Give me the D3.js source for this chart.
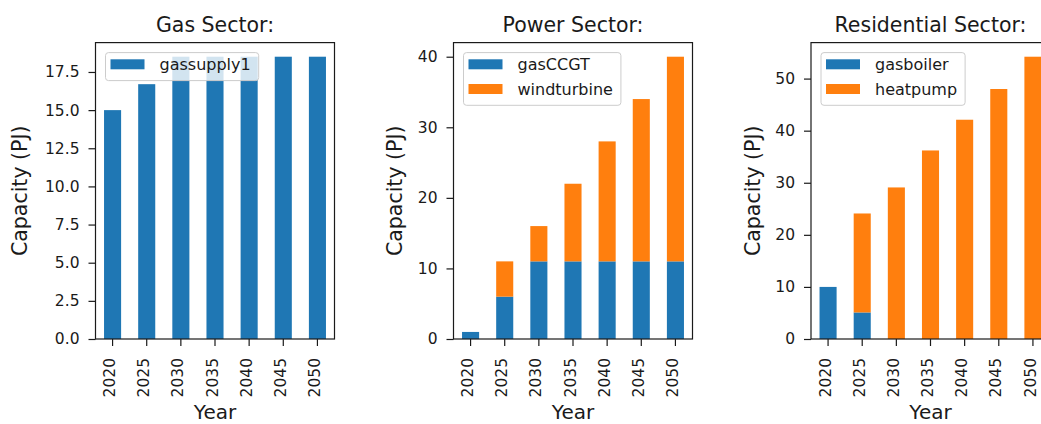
<!DOCTYPE html>
<html>
<head>
<meta charset="utf-8">
<script src="https://cdn.jsdelivr.net/npm/d3@7"></script>
<style>
  html, body { margin: 0; padding: 0; background: #fff; }
  svg { display: block; font-family: "DejaVu Sans", sans-serif; }
</style>
</head>
<body>
<svg id="chart" width="1041" height="424"></svg>
<script>
// ---- data ----
const years = ["2020", "2025", "2030", "2035", "2040", "2045", "2050"];
const gasSupply1 = [15, 16.7, 18.5, 18.5, 18.5, 18.5, 18.5];
const gasCCGT = [1, 6, 11, 11, 11, 11, 11];
const windTurbine = [0, 5, 5, 11, 17, 23, 29];
const gasBoiler = [10, 5.1, 0, 0, 0, 0, 0];
const heatPump = [0, 19, 29.1, 36.2, 42.1, 48, 54.2];

const gasTicks = [0, 2.5, 5, 7.5, 10, 12.5, 15, 17.5];
const powerTicks = [0, 10, 20, 30, 40];
const resTicks = [0, 10, 20, 30, 40, 50];

const titles = ["Gas Sector:", "Power Sector:", "Residential Sector:"];
const xLabel = "Year";
const yLabel = "Capacity (PJ)";

const blue = "#1f77b4", orange = "#ff7f0e";

const panels = [
  { title: titles[0], series: [{ name: "gassupply1", values: gasSupply1, color: blue }],
    ticks: gasTicks, fmt: d3.format(".1f"), left: 95.5, ylabX: 27 },
  { title: titles[1], series: [{ name: "gasCCGT", values: gasCCGT, color: blue },
                               { name: "windturbine", values: windTurbine, color: orange }],
    ticks: powerTicks, fmt: d3.format("d"), left: 453.5, ylabX: 401.5 },
  { title: titles[2], series: [{ name: "gasboiler", values: gasBoiler, color: blue },
                               { name: "heatpump", values: heatPump, color: orange }],
    ticks: resTicks, fmt: d3.format("d"), left: 811, ylabX: 760 }
];

const svg = d3.select("#chart");
svg.append("rect").attr("width", 1041).attr("height", 424).attr("fill", "#fff");

const axTop = 42.6, axBottom = 339, axW = 239;
const txt = "#1a1a1a";

panels.forEach(p => {
  const g = svg.append("g");
  const totals = years.map((y, i) => d3.sum(p.series, s => s.values[i]));
  const ymax = d3.max(totals) * 1.05;
  const x = d3.scaleBand().domain(years).range([p.left, p.left + axW])
    .paddingInner(0.5).paddingOuter(0.25);
  const y = d3.scaleLinear().domain([0, ymax]).range([axBottom, axTop]);

  // stacked bars
  const rows = years.map((yr, i) => {
    const o = { year: yr };
    p.series.forEach(s => o[s.name] = s.values[i]);
    return o;
  });
  const stack = d3.stack().keys(p.series.map(s => s.name))(rows);
  stack.forEach((layer, li) => {
    g.append("g").attr("fill", p.series[li].color)
      .selectAll("rect").data(layer).join("rect")
      .attr("x", d => x(d.data.year))
      .attr("width", x.bandwidth())
      .attr("y", d => y(d[1]))
      .attr("height", d => Math.max(0, y(d[0]) - y(d[1])));
  });

  // y axis
  const ya = g.append("g").attr("transform", `translate(${p.left},0)`)
    .call(d3.axisLeft(y).tickValues(p.ticks).tickFormat(p.fmt).tickSize(7).tickPadding(9));
  ya.select(".domain").remove();
  ya.selectAll(".tick line").attr("stroke", txt).attr("stroke-width", 1.2);
  ya.selectAll(".tick text").attr("fill", txt).attr("font-size", "15.5px")
    .attr("font-family", "DejaVu Sans");

  // x axis
  const xa = g.append("g").attr("transform", `translate(0,${axBottom})`)
    .call(d3.axisBottom(x).tickSize(7).tickPadding(0));
  xa.select(".domain").remove();
  xa.selectAll(".tick line").attr("stroke", txt).attr("stroke-width", 1.2);
  xa.selectAll(".tick text").attr("fill", txt).attr("font-size", "15.5px")
    .attr("font-family", "DejaVu Sans")
    .attr("text-anchor", "end")
    .attr("y", 0).attr("dy", "0.17em")
    .attr("transform", "translate(0,19) rotate(-90)");

  // spines
  g.append("rect").attr("x", p.left).attr("y", axTop).attr("width", axW)
    .attr("height", axBottom - axTop).attr("fill", "none")
    .attr("stroke", txt).attr("stroke-width", 1.2);

  // title
  g.append("text").attr("x", p.left + axW / 2).attr("y", 31.5)
    .attr("text-anchor", "middle").attr("font-size", "20.5px").attr("fill", txt)
    .text(p.title);
  // x label
  g.append("text").attr("x", p.left + axW / 2).attr("y", 419)
    .attr("text-anchor", "middle").attr("font-size", "20px").attr("fill", txt)
    .text(xLabel);
  // y label
  g.append("text").attr("transform", `translate(${p.ylabX},${(axTop + axBottom) / 2}) rotate(-90)`)
    .attr("text-anchor", "middle").attr("font-size", "20.5px").attr("fill", txt)
    .text(yLabel);

  // legend
  const lg = g.append("g").attr("transform", `translate(${p.left + 10},${axTop + 10})`);
  const box = lg.append("rect").attr("rx", 3).attr("ry", 3)
    .attr("fill", "#fff").attr("fill-opacity", 0.8)
    .attr("stroke", "#cccccc").attr("stroke-width", 1);
  let maxW = 0;
  p.series.forEach((s, i) => {
    const cy = 11.7 + i * 24.7;
    lg.append("rect").attr("x", 5).attr("y", cy - 5).attr("width", 34).attr("height", 10)
      .attr("fill", s.color);
    const t = lg.append("text").attr("x", 54).attr("y", cy).attr("dy", "0.36em")
      .attr("font-size", "16px").attr("fill", txt).text(s.name);
    maxW = Math.max(maxW, t.node().getComputedTextLength());
  });
  box.attr("width", 54 + maxW + 8).attr("height", 28 + 24.7 * (p.series.length - 1));
});
</script>
</body>
</html>
